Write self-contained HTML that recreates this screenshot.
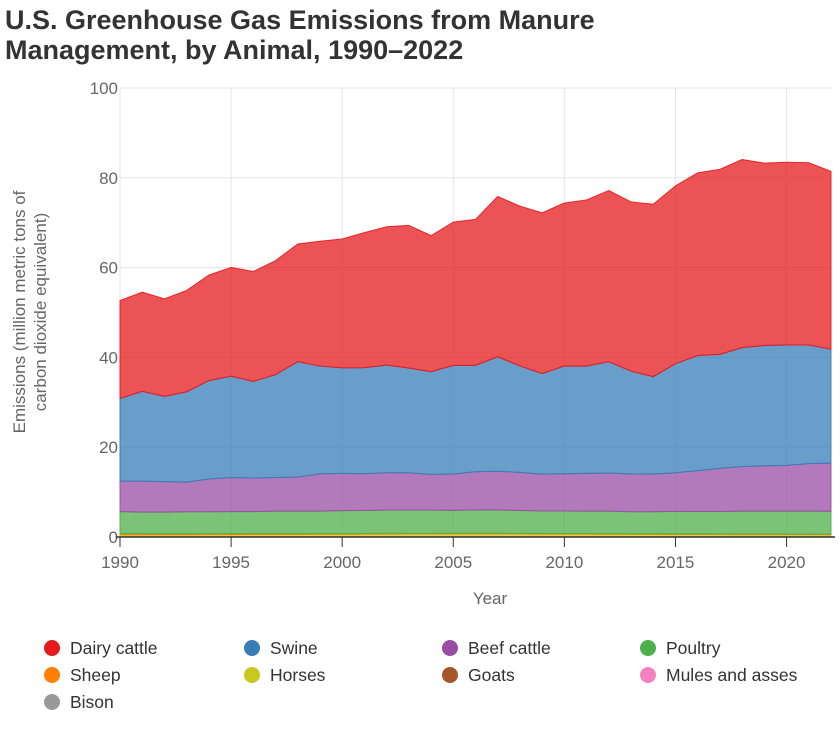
<!DOCTYPE html>
<html><head><meta charset="utf-8"><style>
body{margin:0;background:#fff;font-family:"Liberation Sans",sans-serif;}
</style></head><body>
<svg id="chart" width="840" height="724" xmlns="http://www.w3.org/2000/svg">
<text x="5" y="29" font-size="27" font-weight="bold" fill="#333">U.S. Greenhouse Gas Emissions from Manure</text>
<text x="5" y="59" font-size="27" font-weight="bold" fill="#333">Management, by Animal, 1990–2022</text>
<g id="grid"></g><g id="areas"></g><g id="axes"></g><g id="legend"></g>
<text transform="translate(30,312) rotate(-90)" text-anchor="middle" font-size="17" fill="#666"><tspan x="0" dy="-5">Emissions (million metric tons of</tspan><tspan x="0" dy="21">carbon dioxide equivalent)</tspan></text>
<text x="490" y="604" text-anchor="middle" font-size="17" fill="#666">Year</text>
</svg>
<script>
const years=[];for(let y=1990;y<=2022;y++)years.push(y);
const seriesNames=["Bison","Mules and asses","Goats","Horses","Sheep","Poultry","Beef cattle","Swine","Dairy cattle"];
const bison=[0.02,0.02,0.02,0.02,0.02,0.02,0.02,0.02,0.02,0.02,0.02,0.02,0.02,0.02,0.02,0.02,0.02,0.02,0.02,0.02,0.02,0.02,0.02,0.02,0.02,0.02,0.02,0.02,0.02,0.02,0.02,0.02,0.02];
const mules=[0.03,0.03,0.03,0.03,0.03,0.03,0.03,0.03,0.03,0.03,0.03,0.03,0.03,0.03,0.03,0.03,0.03,0.03,0.03,0.03,0.03,0.03,0.03,0.03,0.03,0.03,0.03,0.03,0.03,0.03,0.03,0.03,0.03];
const goats=[0.05,0.05,0.05,0.05,0.05,0.05,0.05,0.05,0.05,0.05,0.05,0.05,0.05,0.05,0.05,0.05,0.05,0.05,0.05,0.05,0.05,0.05,0.05,0.05,0.05,0.05,0.05,0.05,0.05,0.05,0.05,0.05,0.05];
const horses=[0.4,0.4,0.4,0.4,0.42,0.44,0.45,0.47,0.48,0.5,0.52,0.53,0.55,0.56,0.57,0.58,0.58,0.58,0.56,0.55,0.54,0.53,0.52,0.5,0.48,0.47,0.46,0.45,0.44,0.43,0.42,0.42,0.41];
const sheep=[0.25,0.24,0.23,0.22,0.21,0.2,0.19,0.18,0.17,0.17,0.16,0.16,0.15,0.15,0.15,0.15,0.15,0.15,0.14,0.14,0.14,0.14,0.14,0.13,0.13,0.13,0.13,0.13,0.13,0.13,0.13,0.13,0.13];
const poultry=[4.9,4.8,4.8,4.9,4.9,4.9,4.9,5.0,5.0,5.0,5.1,5.1,5.2,5.2,5.2,5.1,5.2,5.2,5.1,5.0,5.0,5.0,5.0,4.9,4.9,5.0,5.0,5.0,5.1,5.1,5.1,5.1,5.1];
const beef=[6.8,6.9,6.8,6.6,7.3,7.6,7.5,7.5,7.6,8.3,8.3,8.2,8.3,8.3,7.9,8.1,8.5,8.6,8.5,8.2,8.3,8.4,8.5,8.4,8.4,8.6,9.1,9.6,9.9,10.1,10.2,10.6,10.7];
const swine=[18.4,20.0,19.0,20.1,21.9,22.6,21.5,22.9,25.7,24.0,23.5,23.6,24.0,23.3,22.9,24.2,23.7,25.5,23.7,22.4,24.0,23.9,24.8,22.9,21.7,24.3,25.6,25.4,26.5,26.8,26.8,26.4,25.4];
const dairy=[21.8,22.1,21.7,22.6,23.5,24.2,24.5,25.4,26.2,27.8,28.7,30.1,30.8,31.8,30.3,31.9,32.5,35.7,35.6,35.8,36.3,37.0,38.1,37.7,38.4,39.6,40.7,41.2,41.9,40.6,40.7,40.6,39.6];
const yTicks=[0,20,40,60,80,100];
const xTicks=[1990,1995,2000,2005,2010,2015,2020];
const legendOrder=["Dairy cattle","Swine","Beef cattle","Poultry","Sheep","Horses","Goats","Mules and asses","Bison"];

const NS="http://www.w3.org/2000/svg";
const X0=120,X1=831,Y0=537,Y1=88;
const xs=y=>X0+(y-1990)/(2022-1990)*(X1-X0);
const ys=v=>Y0-v/100*(Y0-Y1);
function mk(t,a,p){const e=document.createElementNS(NS,t);for(const k in a)e.setAttribute(k,a[k]);p.appendChild(e);return e;}
const grid=document.getElementById('grid'),axes=document.getElementById('axes'),areas=document.getElementById('areas'),legend=document.getElementById('legend');
yTicks.forEach(t=>{
 const l=mk('line',{x1:X0,x2:X1,y1:ys(t),y2:ys(t),stroke:'#e6e6e6'},grid);
 
 
 const tx=mk('text',{x:X0-2,y:ys(t)+6,'text-anchor':'end','font-size':17,fill:'#666'},axes);tx.textContent=t;
 
 
});
xTicks.forEach(t=>{
 const l=mk('line',{x1:xs(t),x2:xs(t),y1:Y1,y2:Y0,stroke:'#e6e6e6'},grid);
 
 
 const tk=mk('line',{x1:xs(t),x2:xs(t),y1:Y0,y2:Y0+10,stroke:'#333'},axes);
 
 
 const tx=mk('text',{x:xs(t),y:Y0+31,'text-anchor':'middle','font-size':17,fill:'#666'},axes);tx.textContent=t;
 
 
});
const base=mk('line',{x1:X0-4,x2:X1+4,y1:Y0,y2:Y0,stroke:'#333','stroke-width':1.5},axes);



const data={"Bison":bison,"Mules and asses":mules,"Goats":goats,"Horses":horses,"Sheep":sheep,"Poultry":poultry,"Beef cattle":beef,"Swine":swine,"Dairy cattle":dairy};
const fills={"Dairy cattle":"#e41a1c","Swine":"#377eb8","Beef cattle":"#984ea3","Poultry":"#4daf4a","Sheep":"#ff7f00","Horses":"#c8c81e","Goats":"#a65628","Mules and asses":"#f781bf","Bison":"#999999"};
let cum=years.map(()=>0);
seriesNames.forEach(n=>{
 const v=data[n];const top=cum.map((c,i)=>c+v[i]);
 let d='M'+years.map((y,i)=>xs(y)+','+ys(top[i])).join(' L');
 for(let i=years.length-1;i>=0;i--)d+=' L'+xs(years[i])+','+ys(cum[i]);
 d+='Z';
 const p=mk('path',{d:d,fill:fills[n],'fill-opacity':0.75,stroke:fills[n],'stroke-width':1,'stroke-opacity':0.9},areas);
 
 
 cum=top;
});
const cols=[52,252,450,648],rows=[648,675,702];
legendOrder.forEach((n,i)=>{
 const g=mk('g',{},legend);
 
 
 const cx=cols[i%4],cy=rows[Math.floor(i/4)];
 mk('circle',{cx:cx,cy:cy,r:8,fill:fills[n]},g);
 const t=mk('text',{x:cx+18,y:cy+6,'font-size':17.5,fill:'#333'},g);t.textContent=n;
});
</script>
</body></html>
